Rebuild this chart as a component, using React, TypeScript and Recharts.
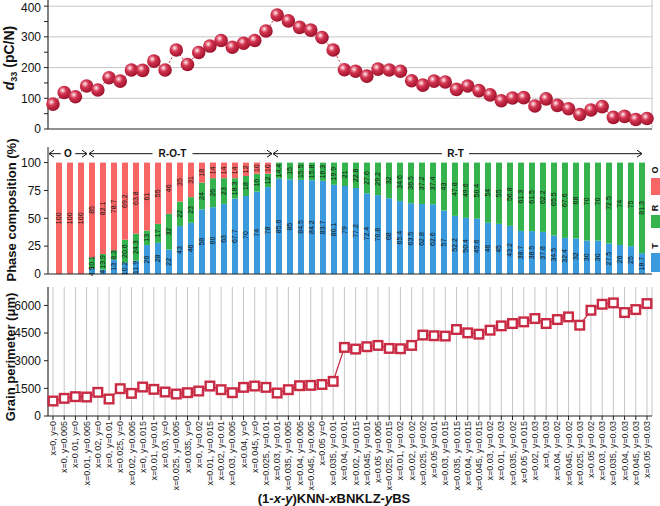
import React from "react"
import { LineChart, Line, BarChart, Bar, XAxis, YAxis, CartesianGrid, ReferenceLine, LabelList } from "recharts"

const compositions = [
  "x=0, y=0", "x=0, y=0.005", "x=0.01, y=0", "x=0.01, y=0.005", "x=0.02, y=0", "x=0, y=0.01",
  "x=0.025, y=0", "x=0.02, y=0.005", "x=0, y=0.015", "x=0.01, y=0.01", "x=0.03, y=0", "x=0.025, y=0.005",
  "x=0.035, y=0", "x=0, y=0.02", "x=0.01, y=0.015", "x=0.02, y=0.01", "x=0.03, y=0.005", "x=0.04, y=0",
  "x=0.045, y=0", "x=0.025, y=0.01", "x=0.03, y=0.01", "x=0.035, y=0.005", "x=0.04, y=0.005", "x=0.045, y=0.005",
  "x=0.05 y=0", "x=0.035, y=0.01", "x=0.04, y=0.01", "x=0.02, y=0.015", "x=0.045, y=0.01", "x=0.05 y=0.005",
  "x=0.025, y=0.015", "x=0.01, y=0.02", "x=0.02, y=0.02", "x=0.025, y=0.02", "x=0.05 y=0.01", "x=0.03, y=0.015",
  "x=0.035, y=0.015", "x=0.04, y=0.015", "x=0.045, y=0.015", "x=0.03, y=0.02", "x=0.01, y=0.03", "x=0.035, y=0.02",
  "x=0.05 y=0.015", "x=0.02, y=0.03", "x=0, y=0.03", "x=0.04, y=0.02", "x=0.045, y=0.02", "x=0.025, y=0.03",
  "x=0.05 y=0.02", "x=0.03, y=0.03", "x=0.035, y=0.03", "x=0.04, y=0.03", "x=0.045, y=0.03", "x=0.05 y=0.03",
]

// d33 (pC/N)
const d33 = [
  81, 119, 105, 140, 127, 167, 156, 192, 191, 221,
  192, 257, 210, 249, 270, 288, 266, 279, 288, 319,
  371, 352, 331, 322, 298, 257, 193, 188, 172, 195,
  192, 188, 157, 143, 156, 153, 129, 140, 125, 111,
  92, 101, 102, 75, 98, 77, 66, 47, 62, 73,
  38, 41, 31, 34,
]

// phase fractions (%)
const phaseT = [
  0, 0, 0, 4.9, 4, 13, 10.2, 11.9, 26, 28,
  22, 43, 46, 58, 60, 63, 67.7, 70, 74, 78,
  85.6, 85, 84.5, 84.2, 83.7, 80.1, 79, 77.2, 72.4, 70.8,
  68, 65.4, 63.5, 62.8, 62.6, 57, 52.2, 50.4, 49.6, 46,
  45, 43.2, 38.7, 38.5, 37.8, 34.5, 32.4, 32, 30, 30,
  27.5, 26, 25, 18.7,
]
const phaseR = [
  0, 0, 0, 10.1, 13.9, 8.3, 20.6, 24.3, 13, 17,
  32, 22, 23, 24, 26, 23, 18.3, 18, 16, 12,
  14.4, 15, 15.5, 15.8, 16.3, 19.9, 21, 22.8, 27.6, 29.2,
  32, 34.6, 36.5, 37.2, 37.4, 43, 47.8, 49.6, 50.4, 54,
  55, 56.8, 61.3, 61.5, 62.2, 65.5, 67.6, 68, 70, 70,
  72.5, 74, 75, 81.3,
]
const phaseO = [
  100, 100, 100, 85, 82.1, 78.7, 69.2, 63.8, 61, 55,
  46, 35, 31, 18, 14, 14, 14, 12, 10, 10,
  0, 0, 0, 0, 0, 0, 0, 0, 0, 0,
  0, 0, 0, 0, 0, 0, 0, 0, 0, 0,
  0, 0, 0, 0, 0, 0, 0, 0, 0, 0,
  0, 0, 0, 0,
]

// grain perimeter (um)
const perimeter = [
  813, 958, 1048, 1030, 1283, 922, 1482, 1229, 1572, 1446,
  1301, 1193, 1265, 1355, 1626, 1428, 1265, 1554, 1626, 1554,
  1247, 1428, 1644, 1662, 1710, 1880, 3722, 3632, 3759, 3831,
  3668, 3650, 3831, 4391, 4355, 4337, 4693, 4512, 4440, 4656,
  4890, 5018, 5107, 5288, 5018, 5234, 5378, 4927, 5739, 6064,
  6136, 5613, 5775, 6100,
]

const d33Ticks = [0, 50, 100, 150, 200, 250, 300, 350, 400]
const phaseTicks = [0, 25, 50, 75, 100]
const perimeterTicks = [0, 1500, 3000, 4500, 6000]

const data = compositions.map((name, i) => ({
  name,
  d33: d33[i],
  T: phaseT[i],
  R: phaseR[i],
  O: phaseO[i],
  perimeter: perimeter[i],
}))

const FONT = "'Liberation Sans', Arial, sans-serif"
const RED = "#c92a44"
const GRID = "#c6c6c6"
const AXIS = "#222"
const margin = { top: 0, right: 8, left: 0, bottom: 0 }
const xPad = { left: 5, right: 5 }
const tickStyle = { fontSize: 12, fill: "#111", fontFamily: FONT }

const SphereDot = (props: any) => {
  const { cx, cy, index } = props
  if (cx == null || cy == null) return null
  return <circle key={`s${index}`} cx={cx} cy={cy} r={6.8} fill="url(#sphere)" />
}

const SquareDot = (props: any) => {
  const { cx, cy, index } = props
  if (cx == null || cy == null) return null
  return (
    <rect key={`q${index}`} x={cx - 4.3} y={cy - 4.3} width={8.6} height={8.6}
      fill="#fff" stroke={RED} strokeWidth={2.4} />
  )
}

const CompTick = ({ x, y, payload }: any) => (
  <g transform={`translate(${x},${y})`}>
    <text transform="rotate(-90)" x={-1} y={0} dy="0.34em" textAnchor="end"
      fontSize={9} fill="#222" fontFamily={FONT}>
      {payload.value}
    </text>
  </g>
)

// value written sideways in the middle of a stacked segment
const SegLabel = (props: any) => {
  const { x, y, width, height, value } = props
  if (!value) return null
  const cx = x + width / 2
  const cy = y + height / 2
  return (
    <text x={cx} y={cy} dy="0.35em" textAnchor="middle" transform={`rotate(-90, ${cx}, ${cy})`}
      fontSize={7} fill="#111" fontFamily={FONT}>
      {value}
    </text>
  )
}

// double headed arrow over a range of bars
const phaseSpan = (text: string, padL: number, padR: number, shift = 0) => (props: any) => {
  const x1 = props.x1 - padL
  const x2 = props.x2 + padR
  const y = props.y1
  const cx = (x1 + x2) / 2 + shift
  const half = text.length * 3.2 + 4
  const s = { stroke: "#111", strokeWidth: 1, fill: "none" }
  return (
    <g>
      <line x1={x1} y1={y} x2={cx - half} y2={y} {...s} />
      <line x1={cx + half} y1={y} x2={x2} y2={y} {...s} />
      <polyline points={`${x1 + 5},${y - 3.5} ${x1},${y} ${x1 + 5},${y + 3.5}`} {...s} />
      <polyline points={`${x2 - 5},${y - 3.5} ${x2},${y} ${x2 - 5},${y + 3.5}`} {...s} />
      <text x={cx} y={y} dy="0.36em" textAnchor="middle" fontSize={10} fontWeight="bold"
        fill="#111" fontFamily={FONT}>
        {text}
      </text>
    </g>
  )
}

const VLabel = ({ x, y, children, size = 13 }: any) => (
  <div style={{
    position: "absolute", left: x, top: y, transform: "translate(-50%,-50%) rotate(-90deg)",
    whiteSpace: "nowrap", fontWeight: "bold", fontSize: size, fontFamily: FONT, color: "#111",
  }}>
    {children}
  </div>
)

const legend = [
  { key: "O", color: "#f76565", label: 170, top: 178, h: 17 },
  { key: "R", color: "#35b44e", label: 208, top: 215, h: 13 },
  { key: "T", color: "#3b9bdc", label: 246, top: 253, h: 19 },
]

export default function App() {
  return (
    <div style={{ position: "absolute", left: 0, top: 0, width: 660, height: 506, overflow: "hidden", background: "#fff", fontFamily: FONT }}>
      {/* d33 */}
      <div style={{ position: "absolute", left: 0, top: 0 }}>
        <LineChart width={660} height={140} data={data} margin={margin}>
          <defs>
            <radialGradient id="sphere" cx="38%" cy="35%" r="65%">
              <stop offset="0%" stopColor="#fff" />
              <stop offset="16%" stopColor="#f0a0ad" />
              <stop offset="42%" stopColor="#d2334f" />
              <stop offset="100%" stopColor="#9e132d" />
            </radialGradient>
          </defs>
          <CartesianGrid vertical horizontal={false} stroke={GRID} />
          {[100, 200, 300, 400].map((v) => (
            <ReferenceLine key={v} y={v} stroke={GRID} />
          ))}
          <XAxis dataKey="name" interval={0} tick={false} tickSize={4} height={11} padding={xPad}
            stroke={AXIS} />
          <YAxis domain={[0, 420]} ticks={d33Ticks} width={48} tickSize={4} tickMargin={3}
            tickFormatter={(v) => (v % 100 === 0 ? String(v) : "")} tick={tickStyle}
            stroke={AXIS} />
          <Line dataKey="d33" stroke={RED} strokeWidth={1} strokeDasharray="2 2" dot={SphereDot}
            activeDot={false} isAnimationActive={false} />
        </LineChart>
      </div>

      {/* phase composition */}
      <div style={{ position: "absolute", left: 0, top: 140 }}>
        <BarChart width={660} height={146} data={data} margin={{ ...margin, top: 7 }}>
          <XAxis dataKey="name" interval={0} tick={false} tickSize={4} height={12} padding={xPad}
            stroke={AXIS} />
          <YAxis domain={[0, 114]} ticks={phaseTicks} width={48} tickSize={4} tickMargin={3}
            tick={tickStyle} stroke={AXIS} />
          <Bar dataKey="T" stackId="p" fill="#3b9bdc" barSize={6} isAnimationActive={false}>
            <LabelList dataKey="T" content={SegLabel} />
          </Bar>
          <Bar dataKey="R" stackId="p" fill="#35b44e" barSize={6} isAnimationActive={false}>
            <LabelList dataKey="R" content={SegLabel} />
          </Bar>
          <Bar dataKey="O" stackId="p" fill="#f76565" barSize={6} isAnimationActive={false}>
            <LabelList dataKey="O" content={SegLabel} />
          </Bar>
          <ReferenceLine segment={[{ x: compositions[0], y: 108 }, { x: compositions[2], y: 108 }]}
            shape={phaseSpan("O", 9.5, 6.5)} />
          <ReferenceLine segment={[{ x: compositions[3], y: 108 }, { x: compositions[19], y: 108 }]}
            shape={phaseSpan("R-O-T", 2.5, 4.5, -8)} />
          <ReferenceLine segment={[{ x: compositions[20], y: 108 }, { x: compositions[53], y: 108 }]}
            shape={phaseSpan("R-T", 5.5, 0.5, -2)} />
        </BarChart>
      </div>

      {/* grain perimeter */}
      <div style={{ position: "absolute", left: 0, top: 280 }}>
        <LineChart width={660} height={226} data={data} margin={{ ...margin, top: 7 }}>
          <CartesianGrid vertical horizontal={false} stroke={GRID} />
          <XAxis dataKey="name" interval={0} tick={<CompTick />} tickSize={4} tickMargin={0}
            height={90} padding={xPad} stroke={AXIS} />
          <YAxis domain={[0, 7000]} ticks={perimeterTicks} width={48} tickSize={4} tickMargin={3}
            tick={tickStyle} stroke={AXIS} />
          <Line dataKey="perimeter" stroke={RED} strokeWidth={1.3} dot={SquareDot} activeDot={false}
            isAnimationActive={false} />
        </LineChart>
      </div>

      <VLabel x={10} y={58} size={14}>
        <i>d</i><sub style={{ fontSize: 9 }}>33</sub> (pC/N)
      </VLabel>
      <VLabel x={11} y={210}>Phase composition (%)</VLabel>
      <VLabel x={10} y={357}>Grain perimeter (μm)</VLabel>

      {legend.map((l) => (
        <React.Fragment key={l.key}>
          <div style={{ position: "absolute", left: 651, top: l.top, width: 14, height: l.h, background: l.color }} />
          <VLabel x={655} y={l.label} size={9}>{l.key}</VLabel>
        </React.Fragment>
      ))}

      <div style={{
        position: "absolute", left: 334, top: 491, transform: "translateX(-50%)", whiteSpace: "nowrap",
        fontWeight: "bold", fontSize: 13, lineHeight: "16px", color: "#111",
      }}>
        (1-<i>x</i>-<i>y</i>)KNN-<i>x</i>BNKLZ-<i>y</i>BS
      </div>
    </div>
  )
}
